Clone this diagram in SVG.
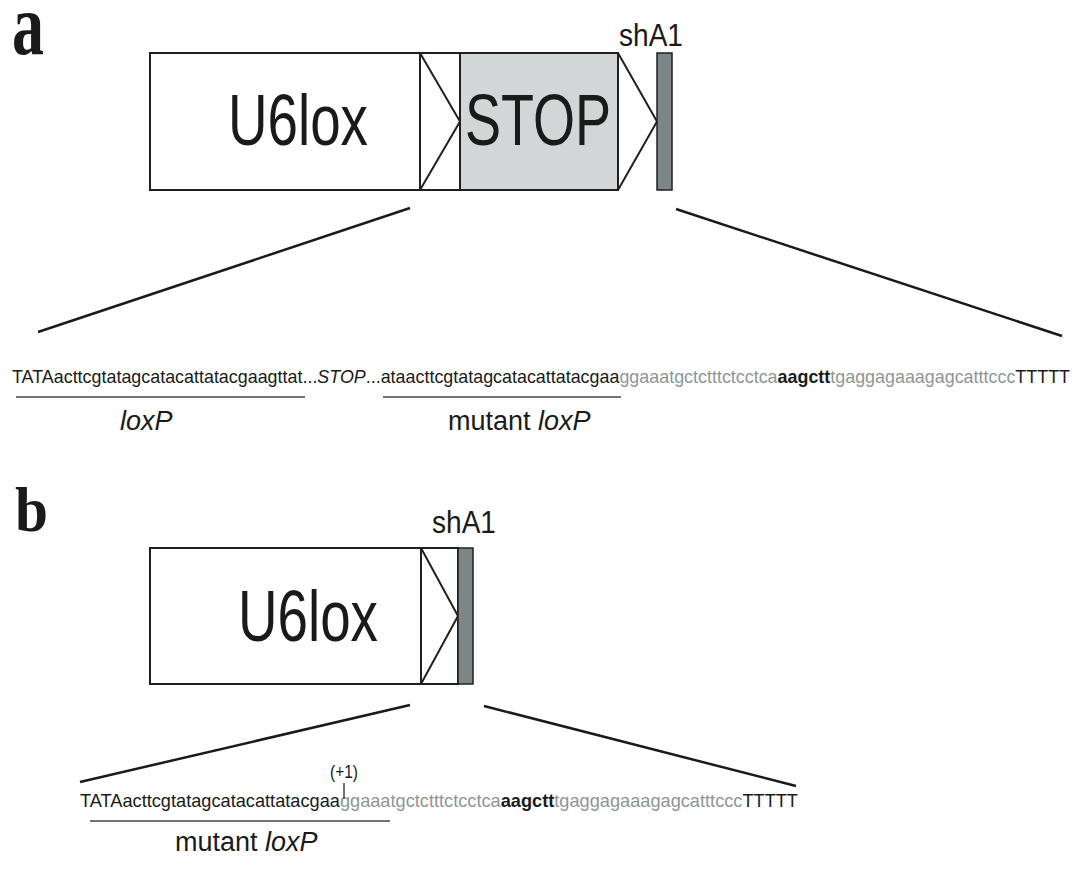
<svg xmlns="http://www.w3.org/2000/svg" width="1078" height="877" viewBox="0 0 1078 877">
  <style>
    .panel { font-family: "Liberation Serif", "Times New Roman", serif; font-weight: bold; fill: #1a1a1a; }
    .box { fill: #ffffff; stroke: #231f20; stroke-width: 2; }
    .stop { fill: #d3d6d6; stroke: #231f20; stroke-width: 2; }
    .bar { fill: #7c8686; stroke: #231f20; stroke-width: 1.5; }
    .chev { fill: none; stroke: #231f20; stroke-width: 2; stroke-linejoin: miter; }
    .big { font-family: "Liberation Sans", Arial, sans-serif; font-size: 72px; fill: #1a1a1a; }
    .lab { font-family: "Liberation Sans", Arial, sans-serif; font-size: 31px; fill: #1a1a1a; }
    .seq { font-family: "Liberation Sans", Arial, sans-serif; font-size: 19px; fill: #1a1a1a; }
    .g { fill: #8f9696; }
    .b { font-weight: bold; }
    .it { font-style: italic; }
    .name { font-family: "Liberation Sans", Arial, sans-serif; font-size: 27px; fill: #1a1a1a; }
    .under { stroke: #444; stroke-width: 1.5; }
    .zoom { stroke: #1a1a1a; stroke-width: 2.5; fill: none; }
  </style>

  <!-- panel letters -->
  <text class="panel" x="12" y="54" font-size="88" textLength="32" lengthAdjust="spacingAndGlyphs">a</text>
  <text class="panel" x="15" y="531" font-size="64" textLength="33" lengthAdjust="spacingAndGlyphs">b</text>

  <!-- ===== panel a: construct before recombination ===== -->
  <g id="a-u6lox">
    <rect class="box" x="150" y="53" width="310" height="137"/>
    <line class="chev" x1="420" y1="53" x2="420" y2="190"/>
    <text class="big" x="228" y="145" textLength="140" lengthAdjust="spacingAndGlyphs">U6lox</text>
  </g>
  <g id="a-loxp1">
    <polyline class="chev" points="420,53 460,121.5 420,190"/>
  </g>
  <g id="a-stop">
    <rect class="stop" x="460" y="53" width="158" height="137"/>
    <text class="big" x="465" y="145" textLength="146" lengthAdjust="spacingAndGlyphs">STOP</text>
  </g>
  <g id="a-loxp2">
    <polyline class="chev" points="618,53 657,121.5 618,190"/>
  </g>
  <g id="a-sha1">
    <rect class="bar" x="657" y="53" width="15" height="137"/>
    <text class="lab" x="619" y="46" textLength="64" lengthAdjust="spacingAndGlyphs">shA1</text>
  </g>

  <g id="a-connectors">
    <line class="zoom" x1="410" y1="208" x2="38" y2="332"/>
    <line class="zoom" x1="676" y1="209" x2="1062" y2="336"/>
  </g>

  <!-- sequence of the floxed-stop cassette; one run, proportionally squeezed -->
  <g id="a-sequence">
    <text class="seq" x="12" y="383" textLength="1058" lengthAdjust="spacingAndGlyphs">TATAacttcgtatagcatacattatacgaagttat...<tspan class="it">STOP</tspan>...ataacttcgtatagcatacattatacgaa<tspan class="g">ggaaatgctctttctcctca</tspan><tspan class="b">aagctt</tspan><tspan class="g">tgaggagaaagagcatttccc</tspan>TTTTT</text>
  </g>
  <g id="a-labels">
    <line class="under" x1="16" y1="397" x2="305" y2="397"/>
    <line class="under" x1="383" y1="397" x2="621" y2="397"/>
    <text class="name it" x="120" y="430">loxP</text>
    <text class="name" x="448" y="430">mutant <tspan class="it">loxP</tspan></text>
  </g>

  <!-- ===== panel b: construct after recombination ===== -->
  <g id="b-u6lox">
    <rect class="box" x="150" y="548" width="308" height="136"/>
    <line class="chev" x1="421" y1="548" x2="421" y2="684"/>
    <text class="big" x="238" y="641" textLength="140" lengthAdjust="spacingAndGlyphs">U6lox</text>
  </g>
  <g id="b-loxp">
    <polyline class="chev" points="421,548 458,616 421,684"/>
  </g>
  <g id="b-sha1">
    <rect class="bar" x="458" y="548" width="15" height="136"/>
    <text class="lab" x="432" y="533" textLength="64" lengthAdjust="spacingAndGlyphs">shA1</text>
  </g>

  <g id="b-connectors">
    <line class="zoom" x1="410" y1="705" x2="80" y2="782"/>
    <line class="zoom" x1="484" y1="706" x2="796" y2="786"/>
  </g>

  <g id="b-sequence">
    <text class="seq" x="80" y="807" textLength="718" lengthAdjust="spacingAndGlyphs">TATAacttcgtatagcatacattatacgaa<tspan class="g">ggaaatgctctttctcctca</tspan><tspan class="b">aagctt</tspan><tspan class="g">tgaggagaaagagcatttccc</tspan>TTTTT</text>
  </g>
  <g id="b-labels">
    <text class="seq" x="330" y="778" font-size="18" textLength="28" lengthAdjust="spacingAndGlyphs">(+1)</text>
    <line class="under" x1="344" y1="783" x2="344" y2="799"/>
    <line class="under" x1="90" y1="821" x2="390" y2="821"/>
    <text class="name" x="175" y="851">mutant <tspan class="it">loxP</tspan></text>
  </g>
</svg>
